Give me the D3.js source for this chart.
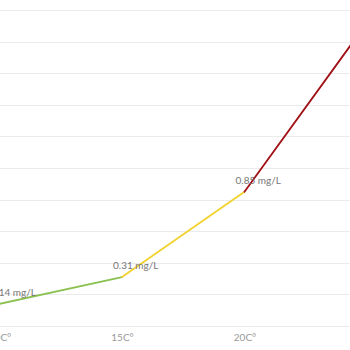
<!DOCTYPE html>
<html><head><meta charset="utf-8">
<script src="https://cdn.jsdelivr.net/npm/d3@7"></script>
<style>html,body{margin:0;padding:0;background:#fff;overflow:hidden}</style>
</head><body>
<svg id="c" width="350" height="350"></svg>
<script>
const temps = [10, 15, 20, 25];
const values = [0.14, 0.31, 0.85, 1.92];
const labels = ["0.14 mg/L", "0.31 mg/L", "0.85 mg/L", ""];
const tickTemps = [10, 15, 20];
const tickLabels = ["10C°", "15C°", "20C°"];
const segColors = ["#8cc152", "#f2d22e", "#a00f14"];
const yTicks = d3.range(0, 2.01, 0.2);

const svg = d3.select("#c");
const x = d3.scaleLinear().domain([10, 25]).range([-0.5, 367]);
const y = d3.scaleLinear().domain([0, 2]).range([326, 10]);

svg.append("g").selectAll("line").data(yTicks).join("line")
  .attr("x1", 0).attr("x2", 350)
  .attr("y1", d => Math.round(y(d)) + 0.5).attr("y2", d => Math.round(y(d)) + 0.5)
  .attr("stroke", "#ebebeb").attr("stroke-width", 1);

const xAxis = d3.axisBottom(x).tickValues(tickTemps).tickSize(0).tickPadding(8)
  .tickFormat((d, i) => tickLabels[i]);
const ga = svg.append("g").attr("transform", "translate(0,326)").call(xAxis);
ga.select(".domain").remove();
ga.selectAll("text").attr("fill", "#999").attr("font-size", 10)
  .attr("font-family", "Lato, 'Open Sans', sans-serif");

const pts = temps.map((t, i) => [t, values[i]]);
const line = d3.line().x(d => x(d[0])).y(d => y(d[1]));
for (let i = 0; i < pts.length - 1; i++) {
  svg.append("path").attr("d", line([pts[i], pts[i + 1]]))
    .attr("fill", "none").attr("stroke", segColors[i]).attr("stroke-width", 1.8)
    .attr("stroke-linecap", "round");
}

svg.append("g").selectAll("text").data(pts).join("text")
  .attr("x", d => x(d[0]) - 9).attr("y", d => y(d[1]) - 8)
  .attr("fill", "#777").attr("font-size", 10)
  .attr("font-family", "Lato, 'Open Sans', sans-serif")
  .text((d, i) => labels[i]);
</script>
</body></html>
